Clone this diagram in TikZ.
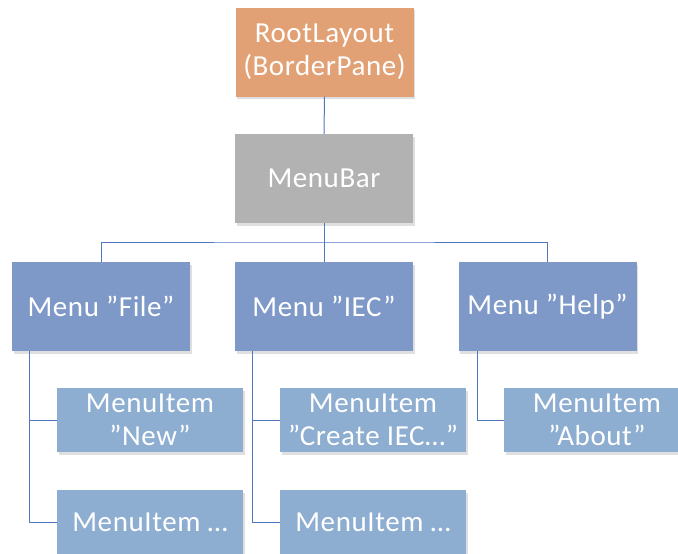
\documentclass[tikz,border=0pt]{standalone}
\usepackage{fontspec}
\setmainfont{Carlito}[LetterSpace=2]
\usetikzlibrary{shadows,calc}

\definecolor{rootfill}{HTML}{E2A174}
\definecolor{barfill}{HTML}{B2B2B2}
\definecolor{menufill}{HTML}{7E99C7}
\definecolor{itemfill}{HTML}{8DADD1}
\definecolor{wire}{HTML}{4F78C0}

\tikzset{
  x=1pt, y=-1pt,
  box/.style={rectangle, draw=none, text=white, align=center,
    font=\fontsize{29}{33}\selectfont, inner sep=0pt,
    drop shadow={opacity=0.25, shadow xshift=1.5pt, shadow yshift=-2.5pt}},
  bigbox/.style={box, minimum width=178pt, minimum height=89pt},
  itembox/.style={box, fill=itemfill, minimum width=186pt, minimum height=64pt},
  link/.style={draw=wire, line width=1pt}
}

\begin{document}
\begin{tikzpicture}
  \useasboundingbox (0,0) rectangle (678,554);

  % top of the tree
  \node[bigbox, fill=rootfill] (root) at (324.5,52) {RootLayout\\(BorderPane)};
  \node[bigbox, fill=barfill] (bar) at (324,178.5) {MenuBar};

  % menus
  \node[bigbox, fill=menufill] (file) at (101,306.5) {Menu ”File”};
  \node[bigbox, fill=menufill] (iec)  at (324,306.5) {Menu ”IEC”};
  \node[bigbox, fill=menufill] (help) at (547.5,306.5) {Menu ”Help”};

  % menu items
  \node[itembox] (new)      at (150,420) {MenuItem\\”New”};
  \node[itembox] (filemore) at (150,522) {MenuItem …};
  \node[itembox] (create)   at (373,420) {MenuItem\\”Create IEC…”};
  \node[itembox] (iecmore)  at (373,522) {MenuItem …};
  \node[itembox] (about)    at (597,420) {MenuItem\\”About”};

  % connectors
  \coordinate (busy) at (0,242);
  \draw[link] (root.south) -- (bar.north);
  \draw[link] (bar.south) -- (iec.north);
  \draw[link] (file.north) |- (busy -| bar.south) -| (help.north);

  \coordinate (fileleg) at ($(file.south west)+(18,0)$);
  \coordinate (iecleg)  at ($(iec.south west)+(18,0)$);
  \coordinate (helpleg) at ($(help.south west)+(19,0)$);
  \draw[link] (fileleg) |- (new.west);
  \draw[link] (fileleg) |- (filemore.west);
  \draw[link] (iecleg) |- (create.west);
  \draw[link] (iecleg) |- (iecmore.west);
  \draw[link] (helpleg) |- (about.west);
\end{tikzpicture}
\end{document}
